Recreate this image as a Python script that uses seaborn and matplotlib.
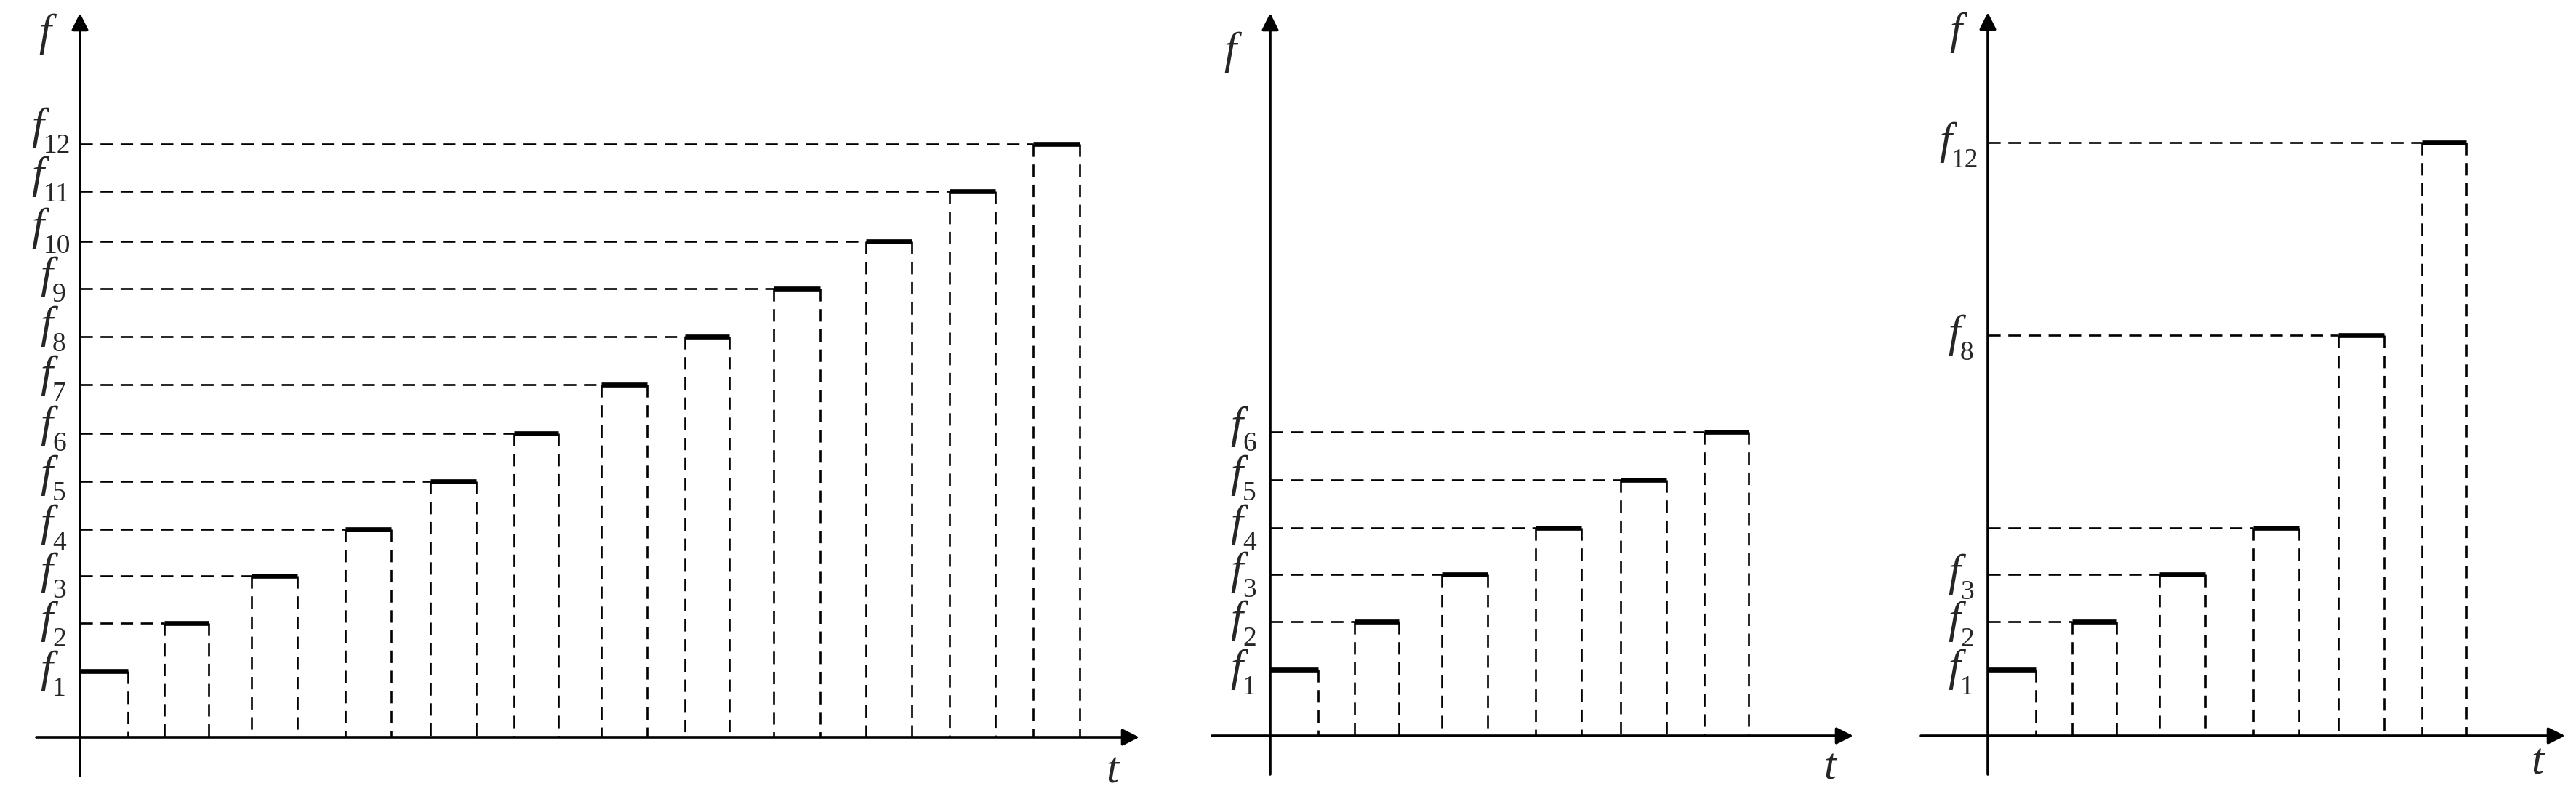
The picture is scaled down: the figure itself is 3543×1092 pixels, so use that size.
import seaborn as sns
import matplotlib.pyplot as plt
import pandas as pd

# frequency levels f1..f12, height above the t axis (px)
f_levels = [91, 157, 222, 286, 352, 418, 485, 551, 617, 682, 751, 816]
f_names = ["1", "2", "3", "4", "5", "6", "7", "8", "9", "10", "11", "12"]

# time slots along t (start / end, px from the f axis)
slot_start = [0, 116, 236, 365, 482, 597, 717, 832, 954, 1081, 1196, 1311]
slot_end = [66, 177, 299, 428, 545, 658, 780, 893, 1018, 1144, 1259, 1375]

# which level is used in each slot, per panel
panel1_steps = [1, 2, 3, 4, 5, 6, 7, 8, 9, 10, 11, 12]
panel2_steps = [1, 2, 3, 4, 5, 6]
panel3_steps = [1, 2, 3, 4, 8, 12]
# levels that get a label (panel 3 leaves the f4 line unnamed)
panel1_named = panel1_steps
panel2_named = panel2_steps
panel3_named = [1, 2, 3, 8, 12]

sns.set_theme(style="white")
plt.rcParams["font.family"] = ["Liberation Serif", "DejaVu Serif"]

W, H = 3543, 1092
fig = plt.figure(figsize=(W / 100, H / 100), dpi=100)

# layout of each panel in figure pixels: (left, right, origin x, origin y from top)
panels = [
    dict(steps=panel1_steps, named=panel1_named, box=(0, 1640), origin=(110, 1014),
         tip_t=1457, tip_f=996, t_start=-60, f_start=-53,
         f_lab=(-48, 967), t_lab=(1420, -48), lift=2.0),
    dict(steps=panel2_steps, named=panel2_named, box=(1640, 2600), origin=(1747, 1012),
         tip_t=802, tip_f=994, t_start=-80, f_start=-53,
         f_lab=(-55, 940), t_lab=(770, -45), lift=1.5),
    dict(steps=panel3_steps, named=panel3_named, box=(2600, 3543), origin=(2734, 1012),
         tip_t=794, tip_f=995, t_start=-92, f_start=-53,
         f_lab=(-44, 967), t_lab=(756, -38), lift=0.0),
]

dash = (0, (6.5, 4))
arrow = dict(arrowstyle="-|>,head_length=14,head_width=7", color="black", lw=2.6,
             shrinkA=0, shrinkB=0, mutation_scale=1)


def draw_panel(p):
    left, right = p["box"]
    ox, oy = p["origin"]
    ax = fig.add_axes([left / W, 0, (right - left) / W, 1])

    # dashed guide lines and solid slot tops as small segment tables
    guide_rows, top_rows = [], []
    for i, k in enumerate(p["steps"]):
        y = f_levels[k - 1]
        s, e = slot_start[i], slot_end[i]
        if s > 0:
            guide_rows += [(f"h{i}", 0, y), (f"h{i}", s, y)]
            guide_rows += [(f"a{i}", s, y), (f"a{i}", s, 0)]
        guide_rows += [(f"b{i}", e, y), (f"b{i}", e, 0)]
        top_rows += [(f"s{i}", s, y), (f"s{i}", e, y)]
    guides = pd.DataFrame(guide_rows, columns=["seg", "t", "f"])
    tops = pd.DataFrame(top_rows, columns=["seg", "t", "f"])

    sns.lineplot(data=guides, x="t", y="f", units="seg", estimator=None, sort=False,
                 color="black", lw=1.9, linestyle=dash, ax=ax)
    sns.lineplot(data=tops, x="t", y="f", units="seg", estimator=None, sort=False,
                 color="black", lw=4.8, solid_capstyle="butt", ax=ax)

    ax.set_xlim(left - ox, right - ox)
    ax.set_ylim(-(H - oy), oy)
    ax.set_axis_off()

    # axes with arrow heads
    ax.annotate("", xy=(p["tip_t"], 0), xytext=(p["t_start"], 0), arrowprops=arrow)
    ax.annotate("", xy=(0, p["tip_f"]), xytext=(0, p["f_start"]), arrowprops=arrow)
    ax.text(*p["f_lab"], "f", fontsize=44, style="italic", ha="center", va="center")
    ax.text(*p["t_lab"], "t", fontsize=44, style="italic", ha="center", va="center")

    # f_k labels on the left of the f axis
    for k in p["named"]:
        name = f_names[k - 1]
        fx = -58 if len(name) > 1 else -46
        fy = f_levels[k - 1] + p["lift"] * (k - 1)
        ax.text(fx, fy, "f", fontsize=44, style="italic", ha="center", va="center")
        ax.text(fx + 8, fy - 34, name, fontsize=27, ha="left", va="baseline")


for p in panels:
    draw_panel(p)

fig.savefig("out.png", dpi=100, facecolor="white")
